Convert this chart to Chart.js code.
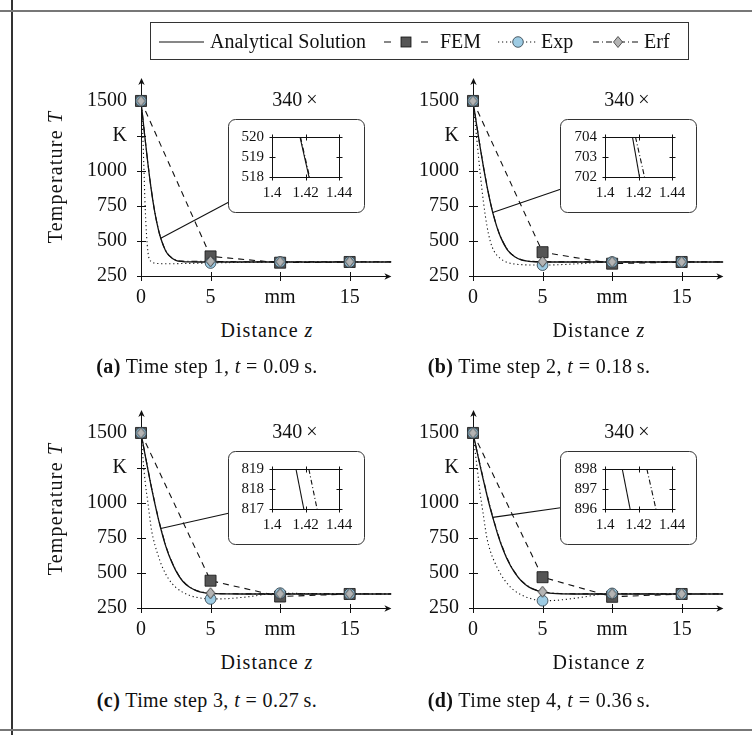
<!DOCTYPE html>
<html>
<head>
<meta charset="utf-8">
<script src="https://cdn.jsdelivr.net/npm/chart.js@4.4.1/dist/chart.umd.min.js"></script>
<style>
  body { margin: 0; width: 752px; height: 735px; background: #fff; position: relative; overflow: hidden;
         font-family: 'Liberation Serif', serif; color: #111; }
  canvas { position: absolute; }
  .rule { position: absolute; background: #555; }
  .lbl { position: absolute; white-space: nowrap; font-size: 20px; line-height: 1; transform: translate(-50%, -50%); }
  .ylbl { transform: translate(-50%, -50%) rotate(-90deg); letter-spacing: 1.2px; }
  .xlbl { letter-spacing: 1px; }
  .cap { letter-spacing: 0.4px; }
  #legend { position: absolute; left: 150px; top: 22px; width: 539px; height: 38px; border: 1px solid #333; box-sizing: border-box; }
  #legend svg { position: absolute; left: 0; top: 0; }
  #legend span { position: absolute; top: 0; line-height: 36px; font-size: 20px; white-space: nowrap; }
</style>
</head>
<body>

<div class="rule" style="left:11px; top:0; width:1.5px; height:735px; background:#333"></div>
<div class="rule" style="left:0; top:10px; width:752px; height:1.5px; background:#777"></div>
<div class="rule" style="left:0; top:729px; width:752px; height:1.5px; background:#777"></div>

<canvas id="panelA" width="380" height="276" style="left:20px; top:38px"></canvas>
<canvas id="panelB" width="380" height="276" style="left:352px; top:38px"></canvas>
<canvas id="panelC" width="380" height="276" style="left:20px; top:370px"></canvas>
<canvas id="panelD" width="380" height="276" style="left:352px; top:370px"></canvas>

<canvas id="insetA" width="147" height="110" style="left:222px; top:107px"></canvas>
<canvas id="insetB" width="147" height="110" style="left:555px; top:107px"></canvas>
<canvas id="insetC" width="147" height="110" style="left:222px; top:439px"></canvas>
<canvas id="insetD" width="147" height="110" style="left:555px; top:439px"></canvas>

<div class="lbl ylbl" style="left:55px; top:177px">Temperature <i>T</i></div>
<div class="lbl ylbl" style="left:55px; top:509px">Temperature <i>T</i></div>

<div class="lbl xlbl" style="left:267px; top:330px">Distance <i>z</i></div>
<div class="lbl xlbl" style="left:599px; top:330px">Distance <i>z</i></div>
<div class="lbl xlbl" style="left:267px; top:662px">Distance <i>z</i></div>
<div class="lbl xlbl" style="left:599px; top:662px">Distance <i>z</i></div>

<div class="lbl cap" style="left:207px; top:366px"><b>(a)</b> Time step 1, <i>t</i> = 0.09&#8201;s.</div>
<div class="lbl cap" style="left:539px; top:366px"><b>(b)</b> Time step 2, <i>t</i> = 0.18&#8201;s.</div>
<div class="lbl cap" style="left:207px; top:700px"><b>(c)</b> Time step 3, <i>t</i> = 0.27&#8201;s.</div>
<div class="lbl cap" style="left:539px; top:700px"><b>(d)</b> Time step 4, <i>t</i> = 0.36&#8201;s.</div>

<div id="legend">
  <svg width="539" height="38">
    <line x1="8" y1="19" x2="53" y2="19" stroke="#111" stroke-width="1.2"/>
    <line x1="233" y1="19" x2="277" y2="19" stroke="#111" stroke-width="1.1" stroke-dasharray="7 30 7"/>
    <rect x="250" y="14" width="10" height="10" fill="#555" stroke="#111" stroke-width="0.8"/>
    <line x1="347" y1="19" x2="385" y2="19" stroke="#111" stroke-width="1.1" stroke-dasharray="1.2 2.8"/>
    <circle cx="367" cy="19" r="5.3" fill="#9dcbe3" stroke="#2b3a44" stroke-width="0.8"/>
    <line x1="442" y1="19" x2="490" y2="19" stroke="#111" stroke-width="1.1" stroke-dasharray="6 3 1 3"/>
    <polygon points="467,13.5 471.5,19 467,24.5 462.5,19" fill="#b4b4b4" stroke="#333" stroke-width="0.8"/>
  </svg>
  <span style="left:59px">Analytical Solution</span>
  <span style="left:289px">FEM</span>
  <span style="left:390px">Exp</span>
  <span style="left:493px">Erf</span>
</div>

<script>
// ── Data ────────────────────────────────────────────────────────
const markerDist = [0, 5, 10, 15];                   // mm, FEM nodes / sample points
const tempTicks  = [250, 500, 750, 1000, 1250, 1500];
const distTicks  = [0, 5, 10, 15];

// analytical solution and erf approximation, sampled on distGrid
const distGrid  = [0, 0.25, 0.5, 0.75, 1, 1.25, 1.42, 1.75, 2, 2.5, 3, 3.5, 4, 4.5, 5, 6, 8, 10, 12, 15, 18];
const analyticA = [1500, 1268, 1050, 858, 700, 581, 520, 434, 397, 362, 353, 351, 350, 350, 350, 350, 350, 350, 350, 350, 350];
const analyticB = [1500, 1336, 1178, 1029, 894, 774, 703, 590, 524, 433, 387, 364, 355, 351, 350, 350, 350, 350, 350, 350, 350];
const analyticC = [1500, 1367, 1236, 1110, 993, 885, 818, 701, 629, 517, 441, 398, 373, 360, 354, 351, 350, 350, 350, 350, 350];
const analyticD = [1500, 1385, 1271, 1162, 1057, 958, 897, 785, 711, 589, 502, 440, 401, 377, 364, 353, 350, 350, 350, 350, 350];
const erfA      = [1500, 1270, 1052, 860, 702, 583, 521, 436, 399, 364, 356, 355, 355, 355, 355, 353, 352, 352, 352, 352, 352];
const erfB      = [1500, 1338, 1181, 1032, 897, 777, 706, 593, 527, 436, 389, 366, 357, 353, 352, 351, 351, 351, 351, 351, 351];
const erfC      = [1500, 1370, 1240, 1114, 998, 890, 823, 706, 634, 521, 444, 400, 375, 362, 356, 352, 351, 351, 351, 351, 351];
const erfD      = [1500, 1388, 1276, 1168, 1063, 964, 903, 791, 716, 594, 506, 443, 404, 380, 366, 355, 351, 351, 351, 351, 351];

// exponential approximation
const expGrid = [0, 0.1, 0.2, 0.3, 0.5, 0.75, 1, 1.25, 1.5, 2, 2.5, 3, 3.5, 4, 5, 6, 7.5, 10, 12, 15, 18];
const expA    = [1500, 1330, 1050, 740, 420, 352, 342, 339, 338, 338, 338, 339, 340, 341, 343, 345, 348, 350, 350, 350, 350];
const expB    = [1500, 1400, 1300, 1200, 1000, 780, 610, 495, 430, 372, 346, 335, 331, 329, 328, 330, 337, 350, 350, 350, 350];
const expC    = [1500, 1370, 1250, 1150, 1000, 810, 700, 620, 550, 455, 398, 362, 340, 326, 315, 316, 328, 356, 353, 351, 350];
const expD    = [1500, 1410, 1330, 1250, 1080, 910, 750, 655, 590, 490, 420, 372, 342, 322, 302, 305, 322, 354, 352, 350, 350];

// values at the sample points
const femA = [1500, 390, 345, 350];
const femB = [1500, 420, 338, 350];
const femC = [1500, 445, 332, 350];
const femD = [1500, 470, 330, 350];
const expMarkA = [1500, 343, 350, 350];
const expMarkB = [1500, 328, 350, 350];
const expMarkC = [1500, 315, 356, 351];
const expMarkD = [1500, 302, 354, 350];
const erfMarkA = [1500, 355, 352, 352];
const erfMarkB = [1500, 352, 351, 351];
const erfMarkC = [1500, 356, 351, 351];
const erfMarkD = [1500, 366, 351, 351];

// zoomed window around z = 1.42 mm
const zoomDist   = 1.42;
const insetTicks = [1.4, 1.42, 1.44];
const insetTempA = [518, 519, 520];
const insetTempB = [702, 703, 704];
const insetTempC = [817, 818, 819];
const insetTempD = [896, 897, 898];
const insetAnaA = [1.4167, 1.4221], insetErfA = [1.4170, 1.4224];
const insetAnaB = [1.4164, 1.4206], insetErfB = [1.4182, 1.4236];
const insetAnaC = [1.4143, 1.4190], insetErfC = [1.4220, 1.4269];
const insetAnaD = [1.4103, 1.4150], insetErfD = [1.4250, 1.4304];

// ── Helpers ─────────────────────────────────────────────────────
const SERIF = "'Liberation Serif', serif";
const pts = (xs, ys) => xs.map((x, i) => ({ x: x, y: ys[i] }));

function diamondMark(w, h) {
  const c = document.createElement('canvas');
  c.width = w + 2; c.height = h + 2;
  const g = c.getContext('2d');
  g.beginPath();
  g.moveTo(c.width / 2, 1); g.lineTo(c.width - 1, c.height / 2);
  g.lineTo(c.width / 2, c.height - 1); g.lineTo(1, c.height / 2);
  g.closePath();
  g.fillStyle = '#b4b4b4'; g.fill();
  g.lineWidth = 0.9; g.strokeStyle = '#333'; g.stroke();
  return c;
}
const diamond = diamondMark(9, 11);

function line(ctx, x1, y1, x2, y2) {
  ctx.beginPath(); ctx.moveTo(x1, y1); ctx.lineTo(x2, y2); ctx.stroke();
}

function arrowHead(ctx, x, y, dir) {
  ctx.save();
  ctx.translate(x, y);
  if (dir === 'right') ctx.rotate(Math.PI / 2);
  ctx.beginPath();
  ctx.moveTo(0, 0); ctx.lineTo(3.2, 7); ctx.lineTo(0, 5); ctx.lineTo(-3.2, 7);
  ctx.closePath();
  ctx.fillStyle = '#111'; ctx.fill();
  ctx.restore();
}

// axis lines through the origin with crossing ticks and arrows
const middleAxes = {
  id: 'middleAxes',
  beforeDatasetsDraw(chart) {
    const { ctx, chartArea: a, scales: { x, y } } = chart;
    const x0 = Math.round(x.getPixelForValue(0)) + 0.5;
    const y0 = Math.round(y.getPixelForValue(250)) + 0.5;
    ctx.save();
    ctx.strokeStyle = '#111';
    ctx.lineWidth = 1;
    line(ctx, x0, y0 + 4, x0, a.top + 4);
    line(ctx, x0 - 4, y0, a.right - 4, y0);
    y.ticks.forEach(t => {
      const p = Math.round(y.getPixelForValue(t.value)) + 0.5;
      line(ctx, x0 - 4.5, p, x0 + 4.5, p);
    });
    x.ticks.forEach(t => {
      const p = Math.round(x.getPixelForValue(t.value)) + 0.5;
      line(ctx, p, y0 - 4.5, p, y0 + 4.5);
    });
    arrowHead(ctx, x0, a.top, 'up');
    arrowHead(ctx, a.right, y0, 'right');
    ctx.restore();
  }
};

// rounded box for the magnified view, its pointer line and the factor
const zoomBox = {
  id: 'zoomBox',
  afterDraw(chart, args, opts) {
    const { ctx, chartArea: a, scales: { x, y } } = chart;
    const bx = a.left + 87.5, by = a.top + 41.5, bw = 136, bh = 93;
    const px = x.getPixelForValue(zoomDist), py = y.getPixelForValue(opts.temp);
    const cx = bx + bw / 2, cy = by + bh / 2;
    const tx = px < bx ? (bx - px) / (cx - px) : 0;
    const ty = py > by + bh ? (by + bh - py) / (cy - py) : 0;
    const t = Math.max(tx, ty);
    ctx.save();
    ctx.strokeStyle = '#111';
    ctx.lineWidth = 1.1;
    line(ctx, px, py, px + (cx - px) * t, py + (cy - py) * t);
    ctx.beginPath();
    ctx.roundRect(bx, by, bw, bh, 7);
    ctx.fillStyle = '#fff';
    ctx.fill();
    ctx.strokeStyle = '#333';
    ctx.lineWidth = 1;
    ctx.stroke();
    ctx.fillStyle = '#111';
    ctx.font = '20px ' + SERIF;
    ctx.textAlign = 'center';
    ctx.textBaseline = 'middle';
    ctx.fillText(opts.label, a.left + 154, a.top + 23);
    ctx.restore();
  }
};

// boxed frame with ticks on all four sides
const insetFrame = {
  id: 'insetFrame',
  afterDatasetsDraw(chart) {
    const { ctx, chartArea: a, scales: { x, y } } = chart;
    const l = Math.round(a.left) + 0.5, r = Math.round(a.right) + 0.5;
    const t = Math.round(a.top) + 0.5, b = Math.round(a.bottom) + 0.5;
    ctx.save();
    ctx.strokeStyle = '#111';
    ctx.lineWidth = 1;
    ctx.strokeRect(l, t, r - l, b - t);
    y.ticks.forEach(k => {
      const p = Math.round(y.getPixelForValue(k.value)) + 0.5;
      line(ctx, l - 3, p, l + 3, p);
      line(ctx, r - 3, p, r + 3, p);
    });
    x.ticks.forEach(k => {
      const p = Math.round(x.getPixelForValue(k.value)) + 0.5;
      line(ctx, p, b - 3, p, b + 3);
      line(ctx, p, t - 3, p, t + 3);
    });
    ctx.restore();
  }
};

function makePanel(id, analytic, erf, exp, fem, expMarks, erfMarks) {
  new Chart(document.getElementById(id), {
    type: 'line',
    data: {
      datasets: [
        { data: pts(markerDist, erfMarks), showLine: false, pointStyle: diamond, pointRadius: 5, clip: false },
        { data: pts(markerDist, expMarks), showLine: false, pointStyle: 'circle', pointRadius: 5.4,
          backgroundColor: '#9dcbe3', borderColor: '#2b3a44', pointBorderWidth: 0.8, clip: false },
        { data: pts(markerDist, fem), borderColor: '#111', borderWidth: 1.1, borderDash: [6, 5],
          pointStyle: 'rect', pointRadius: 7.8, backgroundColor: '#555', pointBorderColor: '#111',
          pointBorderWidth: 0.8, clip: false },
        { data: pts(distGrid, analytic), borderColor: '#111', borderWidth: 1.3, pointRadius: 0,
          cubicInterpolationMode: 'monotone' },
        { data: pts(distGrid, erf), borderColor: '#111', borderWidth: 1.1, borderDash: [6, 3, 1, 3],
          pointRadius: 0, cubicInterpolationMode: 'monotone' },
        { data: pts(expGrid, exp), borderColor: '#111', borderWidth: 1.1, borderDash: [1.2, 2.8],
          pointRadius: 0, cubicInterpolationMode: 'monotone' }
      ]
    },
    options: {
      responsive: false,
      animation: false,
      devicePixelRatio: 1,
      layout: { padding: { left: 21, top: 40, right: 7, bottom: 8 } },
      plugins: {
        legend: { display: false },
        tooltip: { enabled: false },
        zoomBox: { temp: analytic[distGrid.indexOf(zoomDist)], label: '340\u2009×' }
      },
      scales: {
        x: {
          type: 'linear', min: 0, max: 18,
          grid: { display: false, drawTicks: false }, border: { display: false },
          afterBuildTicks: s => { s.ticks = distTicks.map(v => ({ value: v })); },
          afterFit: s => { s.height = 30; },
          ticks: { padding: 10, autoSkip: false, color: '#111', font: { family: SERIF, size: 20 },
                   callback: v => v === 10 ? 'mm' : v }
        },
        y: {
          type: 'linear', min: 250, max: 1664,
          grid: { display: false, drawTicks: false }, border: { display: false },
          afterBuildTicks: s => { s.ticks = tempTicks.map(v => ({ value: v })); },
          afterFit: s => { s.width = 100; },
          ticks: { padding: 14, autoSkip: false, color: '#111', font: { family: SERIF, size: 20 },
                   callback: v => v === 1250 ? 'K' : v }
        }
      }
    },
    plugins: [middleAxes, zoomBox]
  });
}

function makeInset(id, temps, ana, erf) {
  const levels = [temps[2], temps[0]];
  new Chart(document.getElementById(id), {
    type: 'line',
    data: {
      datasets: [
        { data: pts(ana, levels), borderColor: '#111', borderWidth: 1.1, pointRadius: 0 },
        { data: pts(erf, levels), borderColor: '#111', borderWidth: 1.1, borderDash: [5, 2.5, 1, 2.5], pointRadius: 0 }
      ]
    },
    options: {
      responsive: false,
      animation: false,
      devicePixelRatio: 1,
      layout: { padding: { left: 0, top: 30, right: 30, bottom: 10 } },
      plugins: { legend: { display: false }, tooltip: { enabled: false } },
      scales: {
        x: {
          type: 'linear', min: 1.4, max: 1.44,
          grid: { display: false, drawTicks: false }, border: { display: false },
          afterBuildTicks: s => { s.ticks = insetTicks.map(v => ({ value: v })); },
          afterFit: s => { s.height = 30; },
          ticks: { padding: 7, autoSkip: false, maxRotation: 0, color: '#111',
                   font: { family: SERIF, size: 15 }, callback: v => String(v) }
        },
        y: {
          type: 'linear', min: temps[0], max: temps[2],
          grid: { display: false, drawTicks: false }, border: { display: false },
          afterBuildTicks: s => { s.ticks = temps.map(v => ({ value: v })); },
          afterFit: s => { s.width = 50; },
          ticks: { padding: 8, autoSkip: false, color: '#111', font: { family: SERIF, size: 15 } }
        }
      }
    },
    plugins: [insetFrame]
  });
}

makePanel('panelA', analyticA, erfA, expA, femA, expMarkA, erfMarkA);
makePanel('panelB', analyticB, erfB, expB, femB, expMarkB, erfMarkB);
makePanel('panelC', analyticC, erfC, expC, femC, expMarkC, erfMarkC);
makePanel('panelD', analyticD, erfD, expD, femD, expMarkD, erfMarkD);

makeInset('insetA', insetTempA, insetAnaA, insetErfA);
makeInset('insetB', insetTempB, insetAnaB, insetErfB);
makeInset('insetC', insetTempC, insetAnaC, insetErfC);
makeInset('insetD', insetTempD, insetAnaD, insetErfD);
</script>
</body>
</html>
